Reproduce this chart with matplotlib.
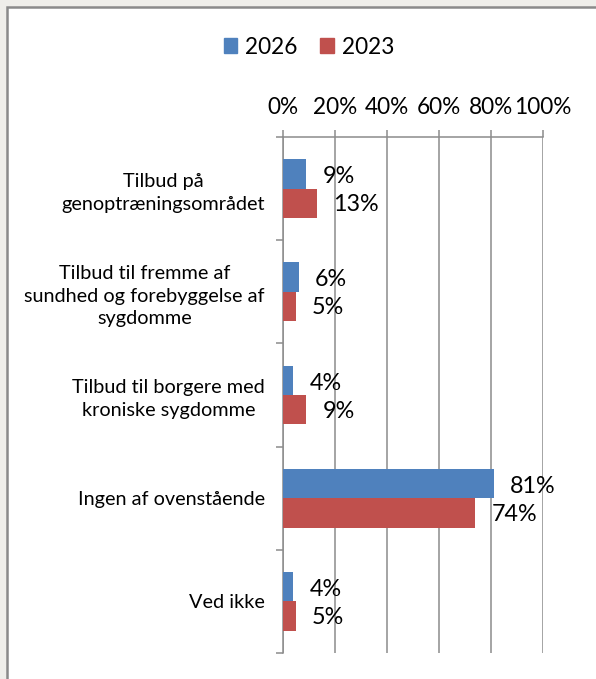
import matplotlib.pyplot as plt
from matplotlib.patches import Patch, Rectangle

categories = [
    'Tilbud på\ngenoptræningsområdet',
    'Tilbud til fremme af\nsundhed og forebyggelse af\nsygdomme',
    'Tilbud til borgere med\nkroniske sygdomme',
    'Ingen af ovenstående',
    'Ved ikke',
]
vals_2026 = [9, 6, 4, 81, 4]
vals_2023 = [13, 5, 9, 74, 5]
series_names = ['2026', '2023']
xticks = [0, 20, 40, 60, 80, 100]

blue = '#4F81BD'
red = '#C0504D'
grey = '#8C8C8C'

plt.rcParams['font.family'] = ['Lato', 'DejaVu Sans']

W, H = 596, 679
fig = plt.figure(figsize=(W / 100, H / 100), dpi=100)
fig.patch.set_facecolor('#EFEEEA')

# white chart area with grey frame (runs off the right and bottom edges)
fig.patches.append(Rectangle((7 / W, -0.05), 1.1, 1 - 7 / H + 0.05,
                             transform=fig.transFigure, facecolor='white',
                             edgecolor='#8A8A8A', linewidth=1.8, zorder=-5))

ax = fig.add_axes([283 / W, 1 - 653 / H, 260 / W, 516 / H])
ax.set_facecolor('none')

y = list(range(len(categories)))
h = 0.285
ax.barh([i - h / 2 for i in y], vals_2026, height=h, color=blue, zorder=3)
ax.barh([i + h / 2 for i in y], vals_2023, height=h, color=red, zorder=3)

for i, v in enumerate(vals_2026):
    ax.annotate(f'{v}%', (v, i - h / 2), xytext=(11.5, -2), textcoords='offset points',
                va='center', ha='left', fontsize=16.8, zorder=4)
for i, v in enumerate(vals_2023):
    ax.annotate(f'{v}%', (v, i + h / 2), xytext=(11.5, -1), textcoords='offset points',
                va='center', ha='left', fontsize=16.8, zorder=4)

ax.set_xlim(0, 100)
ax.set_ylim(len(categories) - 0.5, -0.5)

ax.xaxis.tick_top()
ax.set_xticks(xticks)
ax.set_xticklabels([f'{t}%' for t in xticks], fontsize=16.3)
ax.tick_params(axis='x', direction='out', length=5, width=1.1, color=grey, pad=9)

ax.set_yticks(y)
ax.set_yticklabels(categories, fontsize=14.3)
for lab in ax.get_yticklabels():
    lab.set_multialignment('center')
    lab.set_linespacing(1.4)
ax.set_yticks([i - 0.5 for i in range(len(categories) + 1)], minor=True)
ax.tick_params(axis='y', which='major', length=0, pad=13)
ax.tick_params(axis='y', which='minor', direction='out', length=5, width=1.1, color=grey)

ax.grid(axis='x', color=grey, linewidth=1.1, zorder=1)
ax.set_axisbelow(True)
for s in ['right', 'bottom']:
    ax.spines[s].set_visible(False)
for s in ['left', 'top']:
    ax.spines[s].set_color(grey)
    ax.spines[s].set_linewidth(1.1)

handles = [Patch(color=blue), Patch(color=red)]
fig.legend(handles, series_names, loc='center', bbox_to_anchor=(309 / W, 1 - 47 / H),
           ncol=2, frameon=False, fontsize=16.3, handlelength=0.6, handleheight=0.6,
           handletextpad=0.35, columnspacing=1.0)

fig.savefig('out.png', dpi=100)
